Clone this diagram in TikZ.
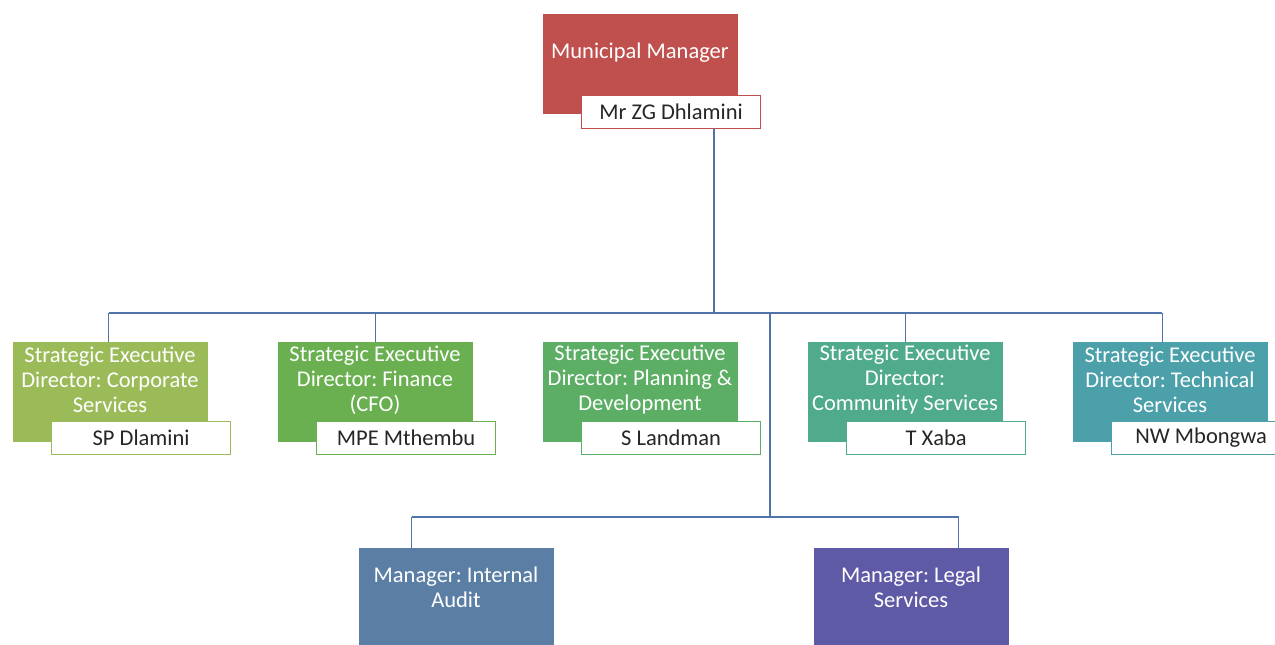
\documentclass[tikz,border=0pt]{standalone}
\usepackage{fontspec}
\setmainfont{Carlito}
\definecolor{mmred}{RGB}{192,80,77}
\definecolor{corpgreen}{RGB}{155,187,89}
\definecolor{fingreen}{RGB}{106,176,80}
\definecolor{plangreen}{RGB}{92,174,100}
\definecolor{commgreen}{RGB}{80,170,140}
\definecolor{techteal}{RGB}{75,160,170}
\definecolor{auditblue}{RGB}{91,126,165}
\definecolor{legalpurple}{RGB}{95,90,165}
\definecolor{lineblue}{RGB}{80,115,170}
\begin{document}
\frenchspacing
\begin{tikzpicture}[x=1pt,y=-1pt]
\tikzset{
  box/.style={draw=none, fill=#1, minimum width=195pt, minimum height=100pt, anchor=north west, inner sep=0pt},
  namebox/.style={draw=#1, fill=white, line width=1.2pt, minimum width=179pt, minimum height=33pt, anchor=north west, inner sep=0pt, font=\fontsize{22.5}{24}\selectfont, text=black!85},
  title/.style={anchor=center, align=center, text=white, font=\fontsize{22.5}{25}\selectfont, inner sep=0pt},
  conn/.style={draw=lineblue, line width=1.4pt}
}
\useasboundingbox (0,0) rectangle (1275,645);

% Municipal Manager
\node[box=mmred] (mm) at (543,14) {};
\node[title] (mmT) at (640,53) {Municipal Manager};
\node[namebox=mmred] (mmname) at (581,95) {Mr ZG Dhlamini};

% Directors
\node[box=corpgreen] (corp) at (13,342) {};
\node[title] (corpT) at (110,380) {Strategic Executive\\Director: Corporate\\Services};
\node[namebox=corpgreen] (corpname) at (51,421) {SP Dlamini};

\node[box=fingreen] (fin) at (278,342) {};
\node[title] (finT) at (375,380) {Strategic Executive\\Director: Finance\\(CFO)};
\node[namebox=fingreen] (finname) at (316,421) {MPE Mthembu};

\node[box=plangreen] (plan) at (543,342) {};
\node[title] (planT) at (640,380) {Strategic Executive\\Director: Planning \&\\Development};
\node[namebox=plangreen] (planname) at (581,421) {S Landman};

\node[box=commgreen] (comm) at (808,342) {};
\node[title] (commT) at (905,380) {Strategic Executive\\Director:\\Community Services};
\node[namebox=commgreen] (commname) at (846,421) {T Xaba};

\node[box=techteal] (tech) at (1073,342) {};
\node[title] (techT) at (1170,380) {Strategic Executive\\Director: Technical\\Services};
\node[namebox=techteal] (techname) at (1111,421) {NW Mbongwa};

% Managers
\node[box=auditblue] (audit) at (359,548) {};
\node[title] (auditT) at (456,587) {Manager: Internal\\Audit};

\node[box=legalpurple] (legal) at (814,548) {};
\node[title] (legalT) at (911,587) {Manager: Legal\\Services};

% connectors
\coordinate (hub) at (714,313);
\coordinate (hub2) at (770,517);
\draw[conn] (mmname.south -| hub) -- (hub);
\draw[conn] ([xshift=-2pt]corp.north |- hub) -- ([xshift=-8.5pt]tech.north |- hub);
\draw[conn] ([xshift=-2pt]corp.north) -- ([xshift=-2pt]corp.north |- hub);
\draw[conn] (fin.north) -- (fin.north |- hub);
\draw[conn] (comm.north) -- (comm.north |- hub);
\draw[conn] ([xshift=-8.5pt]tech.north) -- ([xshift=-8.5pt]tech.north |- hub);
\draw[conn] (hub -| hub2) -- (hub2);
\draw[conn] ([xshift=-45pt]audit.north |- hub2) -- ([xshift=47pt]legal.north |- hub2);
\draw[conn] ([xshift=-45pt]audit.north) -- ([xshift=-45pt]audit.north |- hub2);
\draw[conn] ([xshift=47pt]legal.north) -- ([xshift=47pt]legal.north |- hub2);
\end{tikzpicture}
\end{document}
